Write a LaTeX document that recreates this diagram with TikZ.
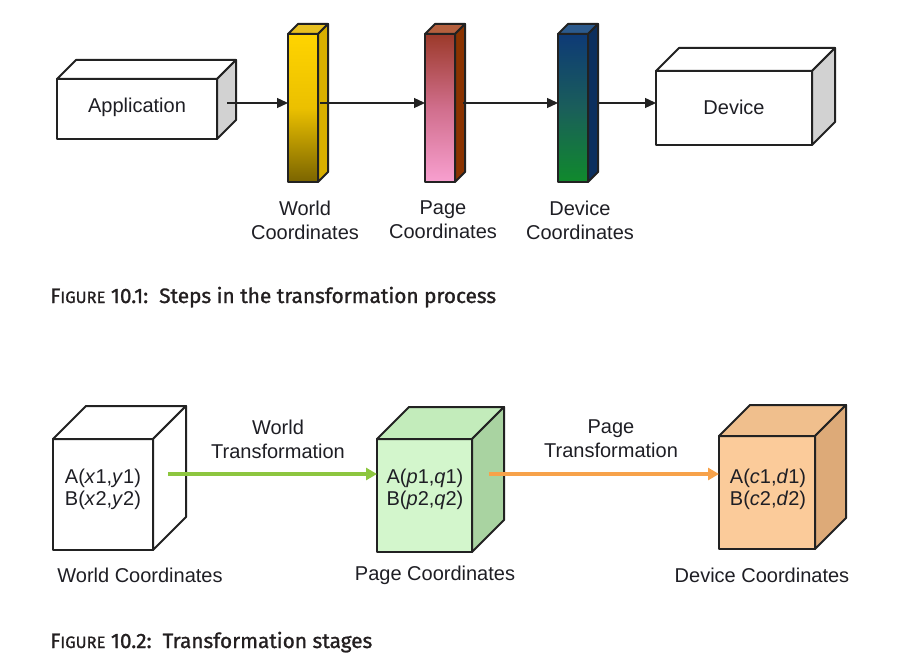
\documentclass[tikz,border=0pt]{standalone}
\usepackage{fontspec}
\setmainfont{Liberation Sans}
\newfontfamily\capfont[FakeBold=1.2]{Fira Sans}
\usetikzlibrary{arrows.meta,calc}
\definecolor{ink}{HTML}{1E1E24}
\definecolor{edgec}{HTML}{222222}
\definecolor{sidegrey}{HTML}{D2D2D2}
\definecolor{yelA}{HTML}{FFD400}
\definecolor{yelB}{HTML}{EBC000}
\definecolor{yelC}{HTML}{7A6400}
\definecolor{yelSide}{HTML}{D8AF00}
\definecolor{yelTop}{HTML}{E8C020}
\definecolor{pinkA}{HTML}{9C3A2A}
\definecolor{pinkB}{HTML}{D06E8C}
\definecolor{pinkC}{HTML}{F8A0D0}
\definecolor{pinkSide}{HTML}{8A3300}
\definecolor{pinkTop}{HTML}{B5603E}
\definecolor{bluA}{HTML}{0E3A76}
\definecolor{bluB}{HTML}{1A5E5A}
\definecolor{bluC}{HTML}{108A2C}
\definecolor{bluSide}{HTML}{0C2F5E}
\definecolor{bluTop}{HTML}{2C5A8C}
\definecolor{pgFront}{HTML}{D3F6CC}
\definecolor{pgSide}{HTML}{A9D3A1}
\definecolor{pgTop}{HTML}{C3ECBB}
\definecolor{dvFront}{HTML}{FBCB9A}
\definecolor{dvSide}{HTML}{DDAA78}
\definecolor{dvTop}{HTML}{F0BF8D}
\definecolor{greenarr}{HTML}{8DC63F}
\definecolor{orangearr}{HTML}{F7A24A}
\definecolor{capink}{HTML}{231F20}
\newcommand\boxsides[4]{%
  \draw[edge, fill=#4] (#1.north west) -- ++(#2,-#2) -- ($(#1.north east)+(#2,-#2)$) -- (#1.north east) -- cycle;
  \draw[edge, fill=#3] (#1.north east) -- ++(#2,-#2) -- ($(#1.south east)+(#2,-#2)$) -- (#1.south east) -- cycle;}
\tikzset{
  edge/.style={draw=edgec, line width=2pt, line join=round},
  face/.style={edge, rectangle, inner sep=0pt, outer sep=0pt},
  lbl/.style={text=ink, font=\fontsize{20}{24}\selectfont, align=center, inner sep=0pt},
  inlbl/.style={text=ink, font=\fontsize{20}{22}\selectfont, align=center, inner sep=0pt},
  blackarr/.style={draw=edgec, line width=1.3pt, -{Triangle[length=11pt,width=10pt]}},
  greenline/.style={draw=greenarr, line width=3.5pt, -{Triangle[length=11pt,width=12pt]}},
  orangeline/.style={draw=orangearr, line width=3.5pt, -{Triangle[length=11pt,width=12pt]}},
  captxt/.style={text=capink, font=\capfont\fontsize{20.8}{24}\selectfont, anchor=base west, inner sep=0pt}
}
\begin{document}
\begin{tikzpicture}[x=1pt,y=-1pt]
\useasboundingbox (0,0) rectangle (916,655);
% ---------- Figure 10.1 ----------
\node[face, fill=white, minimum width=160pt, minimum height=60pt] (app) at (137,109) {};
\boxsides{app}{19}{sidegrey}{white}
\node[lbl] (apptxt) at (137,107) {Application};

\node[face, top color=yelA, bottom color=yelC, middle color=yelB, minimum width=30pt, minimum height=148pt] (yel) at (303,108) {};
\boxsides{yel}{10}{yelSide}{yelTop}
\node[face, top color=pinkA, bottom color=pinkC, middle color=pinkB, minimum width=30pt, minimum height=148pt] (pink) at (440,108) {};
\boxsides{pink}{10}{pinkSide}{pinkTop}
\node[face, top color=bluA, bottom color=bluC, middle color=bluB, minimum width=30pt, minimum height=148pt] (blu) at (573,108) {};
\boxsides{blu}{10}{bluSide}{bluTop}

\node[face, fill=white, minimum width=156pt, minimum height=74pt] (dev) at (734,108) {};
\boxsides{dev}{23}{sidegrey}{white}
\node[lbl] (devtxt) at (734,107) {Device};

\coordinate (r1) at (0,103);
\draw[blackarr] ($(app.east |- r1)+(10,0)$) -- (yel.west |- r1);
\draw[blackarr] ($(yel.east |- r1)+(2,0)$) -- (pink.west |- r1);
\draw[blackarr] ($(pink.east |- r1)+(8,0)$) -- (blu.west |- r1);
\draw[blackarr] ($(blu.east |- r1)+(10,0)$) -- (dev.west |- r1);

\node[lbl] (wc1) at (305,220) {World\\Coordinates};
\node[lbl] (pc1) at (443,220) {Page\\Coordinates};
\node[lbl] (dc1) at (580,220) {Device\\Coordinates};

\node[captxt] (cap1) at (50,303) {F{\fontsize{16.5}{18}\selectfont IGURE} 10.1:\ \ Steps in the transformation process};

% ---------- Figure 10.2 ----------
\node[face, fill=white, minimum width=100pt, minimum height=111pt] (wcube) at (103,494.5) {};
\boxsides{wcube}{33}{white}{white}
\node[inlbl] (wtxt) at (103,489) {A(\textit{x}1,\textit{y}1)\\B(\textit{x}2,\textit{y}2)};

\node[face, fill=pgFront, minimum width=95pt, minimum height=113pt] (pcube) at (424.5,495.5) {};
\boxsides{pcube}{32}{pgSide}{pgTop}
\node[inlbl] (ptxt) at (425,489) {A(\textit{p}1,\textit{q}1)\\B(\textit{p}2,\textit{q}2)};

\node[face, fill=dvFront, minimum width=96pt, minimum height=113pt] (dcube) at (767,492.5) {};
\boxsides{dcube}{31}{dvSide}{dvTop}
\node[inlbl] (dtxt) at (768,489) {A(\textit{c}1,\textit{d}1)\\B(\textit{c}2,\textit{d}2)};

\coordinate (r2) at (0,474);
\draw[greenline] ($(wcube.east |- r2)+(15,0)$) -- (pcube.west |- r2);
\draw[orangeline] ($(pcube.east |- r2)+(17,0)$) -- (dcube.west |- r2);

\node[lbl] (wt) at (278,439) {World\\Transformation};
\node[lbl] (pt) at (611,439) {Page\\Transformation};

\node[lbl] (wc2) at (140,575) {World Coordinates};
\node[lbl] (pc2) at (435,575) {Page Coordinates};
\node[lbl] (dc2) at (762,575) {Device Coordinates};

\node[captxt] (cap2) at (50,648) {F{\fontsize{16.5}{18}\selectfont IGURE} 10.2:\ \ Transformation stages};
\end{tikzpicture}
\end{document}
